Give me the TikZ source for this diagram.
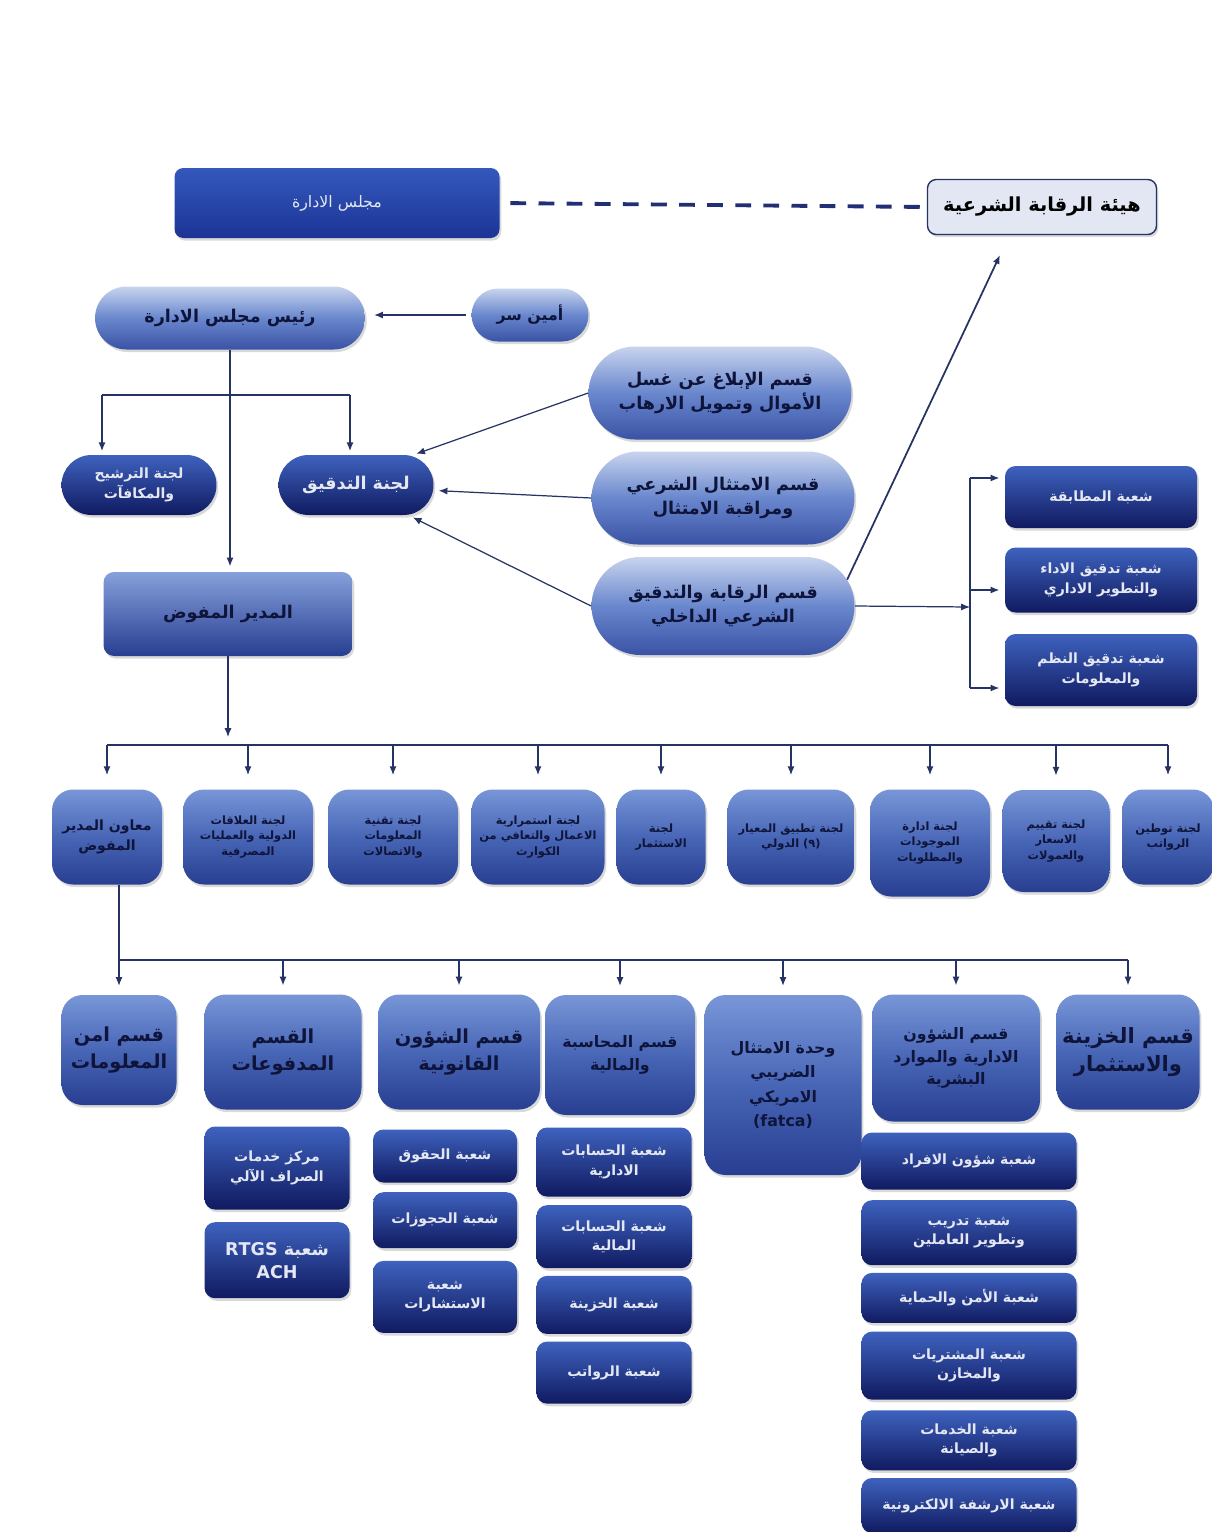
\documentclass[tikz,border=0pt]{standalone}
\usepackage{fontspec}
\usetikzlibrary{positioning,shapes.misc,arrows.meta,shadows}
\TeXXeTstate=1
\newfontfamily\arabicfont[Script=Arabic]{DejaVu Sans}
\newcommand{\AR}[1]{\beginR #1\endR}

\definecolor{dkTop}{RGB}{62,98,190}
\definecolor{dkBot}{RGB}{16,26,96}
\definecolor{bdTop}{RGB}{52,88,188}
\definecolor{bdBot}{RGB}{28,52,150}
\definecolor{plTop}{RGB}{200,212,238}
\definecolor{plMid}{RGB}{105,135,205}
\definecolor{plBot}{RGB}{58,82,165}
\definecolor{brTop}{RGB}{120,150,215}
\definecolor{brMid}{RGB}{72,102,182}
\definecolor{brBot}{RGB}{40,62,145}
\definecolor{txtLight}{RGB}{228,232,242}
\definecolor{txtDark}{RGB}{14,20,58}
\definecolor{lnCol}{RGB}{38,52,100}

\tikzset{
  sz/.style 2 args={minimum width=#1*0.02cm, minimum height=#2*0.02cm},
  box/.style={align=center, inner sep=2pt,
    drop shadow={opacity=0.3, shadow xshift=1pt, shadow yshift=-1.5pt}},
  darkbox/.style={box, rectangle, rounded corners=5pt, top color=dkTop,
    bottom color=dkBot, text=txtLight,
    font=\arabicfont\bfseries\fontsize{8}{11}\selectfont},
  darkpill/.style={box, rounded rectangle, top color=dkTop, bottom color=dkBot,
    text=txtLight, font=\arabicfont\bfseries\fontsize{8}{11}\selectfont},
  pill/.style={box, rounded rectangle, top color=plTop, bottom color=plBot,
    middle color=plMid, text=txtDark,
    font=\arabicfont\bfseries\fontsize{10}{14}\selectfont},
  barrel/.style={box, rectangle, rounded corners=12pt, top color=brTop,
    bottom color=brBot, middle color=brMid, text=txtDark,
    font=\arabicfont\bfseries\fontsize{6.5}{9}\selectfont},
  dept/.style={barrel, font=\arabicfont\bfseries\fontsize{10}{14}\selectfont},
  subbox/.style={darkbox, rounded corners=6pt},
  line/.style={draw=lnCol, line width=0.7pt},
  arr/.style={line, ->},
}

\begin{document}
\begin{tikzpicture}[x=0.02cm, y=-0.02cm, >={Latex[length=5pt,width=4pt]}]
\useasboundingbox (0,0) rectangle (1211,1532);

% top level
\node[darkbox, sz={325}{70}, top color=bdTop, bottom color=bdBot,
  font=\arabicfont\fontsize{9}{11}\selectfont] (board) at (337,203) {\AR{مجلس الادارة}};
\node[box, rectangle, rounded corners=5pt, sz={229}{55}, fill={rgb,255:red,226;green,231;blue,243},
  draw=lnCol, line width=0.8pt, text=black,
  font=\arabicfont\bfseries\fontsize{11}{13}\selectfont] (shariah) at (1042,207) {\AR{هيئة الرقابة الشرعية}};
\node[pill, sz={277}{63}] (chair) at (230,318) {\AR{رئيس مجلس الادارة}};
\node[pill, sz={124}{53}, font=\arabicfont\bfseries\fontsize{9}{11}\selectfont] (secr) at (530,315) {\AR{أمين سر}};

% committees of the board
\node[darkpill, sz={162}{60}] (nomin) at (139,485) {\AR{لجنة الترشيح}\\\AR{والمكافآت}};
\node[darkpill, sz={162}{60}, font=\arabicfont\bfseries\fontsize{10}{12}\selectfont] (audit) at (356,485) {\AR{لجنة التدقيق}};
\node[pill, sz={270}{93}] (aml) at (720,393) {\AR{قسم الإبلاغ عن غسل}\\\AR{الأموال وتمويل الارهاب}};
\node[pill, sz={270}{93}] (comp) at (723,498) {\AR{قسم الامتثال الشرعي}\\\AR{ومراقبة الامتثال}};
\node[pill, sz={270}{98}] (ssb) at (723,606) {\AR{قسم الرقابة والتدقيق}\\\AR{الشرعي الداخلي}};
\node[barrel, rounded corners=6pt, sz={249}{84}, top color=brTop!90!white,
  font=\arabicfont\bfseries\fontsize{10}{12}\selectfont] (ceo) at (228,614) {\AR{المدير المفوض}};

% internal audit branches
\node[subbox, sz={192}{62}] (match) at (1101,497) {\AR{شعبة المطابقة}};
\node[subbox, sz={192}{65}] (perf) at (1101,580) {\AR{شعبة تدقيق الاداء}\\\AR{والتطوير الاداري}};
\node[subbox, sz={192}{72}] (sys) at (1101,670) {\AR{شعبة تدقيق النظم}\\\AR{والمعلومات}};

% committees of the managing director
\node[barrel, sz={110}{95}, font=\arabicfont\bfseries\fontsize{8}{11}\selectfont] (c1) at (107,837) {\AR{معاون المدير}\\\AR{المفوض}};
\node[barrel, sz={130}{95}] (c2) at (248,837) {\AR{لجنة العلاقات}\\\AR{الدولية والعمليات}\\\AR{المصرفية}};
\node[barrel, sz={130}{95}] (c3) at (393,837) {\AR{لجنة تقنية}\\\AR{المعلومات}\\\AR{والاتصالات}};
\node[barrel, sz={133}{95}] (c4) at (538,837) {\AR{لجنة استمرارية}\\\AR{الاعمال والتعافي من}\\\AR{الكوارث}};
\node[barrel, sz={89}{95}] (c5) at (661,837) {\AR{لجنة}\\\AR{الاستثمار}};
\node[barrel, sz={127}{95}] (c6) at (791,837) {\AR{لجنة تطبيق المعيار}\\\AR{\beginL(٩)\endL{} الدولي}};
\node[barrel, sz={120}{107}] (c7) at (930,843) {\AR{لجنة ادارة}\\\AR{الموجودات}\\\AR{والمطلوبات}};
\node[barrel, sz={107}{102}] (c8) at (1056,841) {\AR{لجنة تقييم}\\\AR{الاسعار}\\\AR{والعمولات}};
\node[barrel, sz={92}{95}] (c9) at (1168,837) {\AR{لجنة توطين}\\\AR{الرواتب}};

% departments
\node[dept, sz={115}{110}, font=\arabicfont\bfseries\fontsize{11}{15}\selectfont] (d1) at (119,1050) {\AR{قسم امن}\\\AR{المعلومات}};
\node[dept, sz={157}{115}, font=\arabicfont\bfseries\fontsize{11}{15}\selectfont] (d2) at (283,1052) {\AR{القسم}\\\AR{المدفوعات}};
\node[dept, sz={162}{115}, font=\arabicfont\bfseries\fontsize{11}{15}\selectfont] (d3) at (459,1052) {\AR{قسم الشؤون}\\\AR{القانونية}};
\node[dept, sz={150}{120}, font=\arabicfont\bfseries\fontsize{9}{13}\selectfont] (d4) at (620,1055) {\AR{قسم المحاسبة}\\\AR{والمالية}};
\node[dept, sz={157}{180}, font=\arabicfont\bfseries\fontsize{9}{14}\selectfont] (d5) at (783,1085) {\AR{وحدة الامتثال}\\\AR{الضريبي}\\\AR{الامريكي}\\(fatca)};
\node[dept, sz={168}{127}, font=\arabicfont\bfseries\fontsize{9}{13}\selectfont] (d6) at (956,1058) {\AR{قسم الشؤون}\\\AR{الادارية والموارد}\\\AR{البشرية}};
\node[dept, sz={143}{115}, font=\arabicfont\bfseries\fontsize{12}{16}\selectfont] (d7) at (1128,1052) {\AR{قسم الخزينة}\\\AR{والاستثمار}};

% sections under the departments
\node[subbox, sz={145}{83}] (p1) at (277,1168) {\AR{مركز خدمات}\\\AR{الصراف الآلي}};
\node[subbox, sz={145}{76}, below=0.24cm of p1, font=\arabicfont\bfseries\fontsize{10}{13}\selectfont] (p2) {\AR{شعبة \beginL RTGS\endL}\\ACH};

\node[subbox, sz={144}{53}] (l1) at (445,1156) {\AR{شعبة الحقوق}};
\node[subbox, sz={144}{56}, below=0.18cm of l1] (l2) {\AR{شعبة الحجوزات}};
\node[subbox, sz={144}{72}, below=0.24cm of l2] (l3) {\AR{شعبة}\\\AR{الاستشارات}};

\node[subbox, sz={155}{69}] (a1) at (614,1162) {\AR{شعبة الحسابات}\\\AR{الادارية}};
\node[subbox, sz={155}{63}, below=0.16cm of a1] (a2) {\AR{شعبة الحسابات}\\\AR{المالية}};
\node[subbox, sz={155}{58}, below=0.14cm of a2] (a3) {\AR{شعبة الخزينة}};
\node[subbox, sz={155}{62}, below=0.14cm of a3] (a4) {\AR{شعبة الرواتب}};

\node[subbox, sz={215}{57}] (h1) at (969,1161) {\AR{شعبة شؤون الافراد}};
\node[subbox, sz={215}{65}, below=0.2cm of h1] (h2) {\AR{شعبة تدريب}\\\AR{وتطوير العاملين}};
\node[subbox, sz={215}{50}, below=0.14cm of h2] (h3) {\AR{شعبة الأمن والحماية}};
\node[subbox, sz={215}{68}, below=0.16cm of h3] (h4) {\AR{شعبة المشتريات}\\\AR{والمخازن}};
\node[subbox, sz={215}{60}, below=0.2cm of h4] (h5) {\AR{شعبة الخدمات}\\\AR{والصيانة}};
\node[subbox, sz={215}{55}, below=0.14cm of h5] (h6) {\AR{شعبة الارشفة الالكترونية}};

% connectors
\draw[draw=lnCol!90!blue, line width=2.2pt, dash pattern=on 9pt off 7pt, shorten <=6pt] (board.east) -- (shariah.west);
\draw[arr, shorten >=5pt, shorten <=3pt] (secr.west) -- (secr.west -| chair.east);
\draw[arr, shorten >=3pt] (chair.south) -- (chair.south |- ceo.north);

\coordinate (br1) at (102,395);
\coordinate (br2) at (350,395);
\draw[line] (br1) -- (br2);
\draw[arr, shorten >=2pt] (br1) -- (br1 |- nomin.north);
\draw[arr, shorten >=2pt] (br2) -- (br2 |- audit.north);

\draw[arr, shorten >=3pt] (aml.west) -- (audit.28);
\draw[arr, shorten >=3pt] (comp.west) -- (audit.-4);
\draw[arr, shorten >=3pt] (ssb.west) -- (audit.-30);

\coordinate (shtip) at (1000,255);
\draw[arr, line width=1pt] (ssb.12) -- (shtip);

\coordinate (brkm) at (970,607);
\coordinate (brk1) at (970,478);
\coordinate (brk2) at (970,590);
\coordinate (brk3) at (970,688);
\draw[arr] (ssb.east) -- (brkm);
\draw[line] (brk1) -- (brk3);
\draw[arr, shorten >=3pt] (brk1) -- (brk1 -| match.west);
\draw[arr, shorten >=3pt] (brk2) -- (brk2 -| perf.west);
\draw[arr, shorten >=3pt] (brk3) -- (brk3 -| sys.west);

\coordinate (ceotip) at (228,737);
\coordinate (bar1) at (0,745);
\draw[arr] (ceo.south) -- (ceotip);
\draw[line] (c1.north |- bar1) -- (c9.north |- bar1);
\foreach \c in {c1,c2,c3,c4,c5,c6,c7,c8,c9}
  \draw[arr, shorten >=8pt] (\c.north |- bar1) -- (\c.north);

\coordinate (bar2) at (0,960);
\draw[line] (d1.north |- c1.south) -- (d1.north |- bar2);
\draw[line] (d1.north |- bar2) -- (d7.north |- bar2);
\foreach \d in {d1,d2,d3,d4,d5,d6,d7}
  \draw[arr, shorten >=5pt] (\d.north |- bar2) -- (\d.north);

\end{tikzpicture}
\end{document}
